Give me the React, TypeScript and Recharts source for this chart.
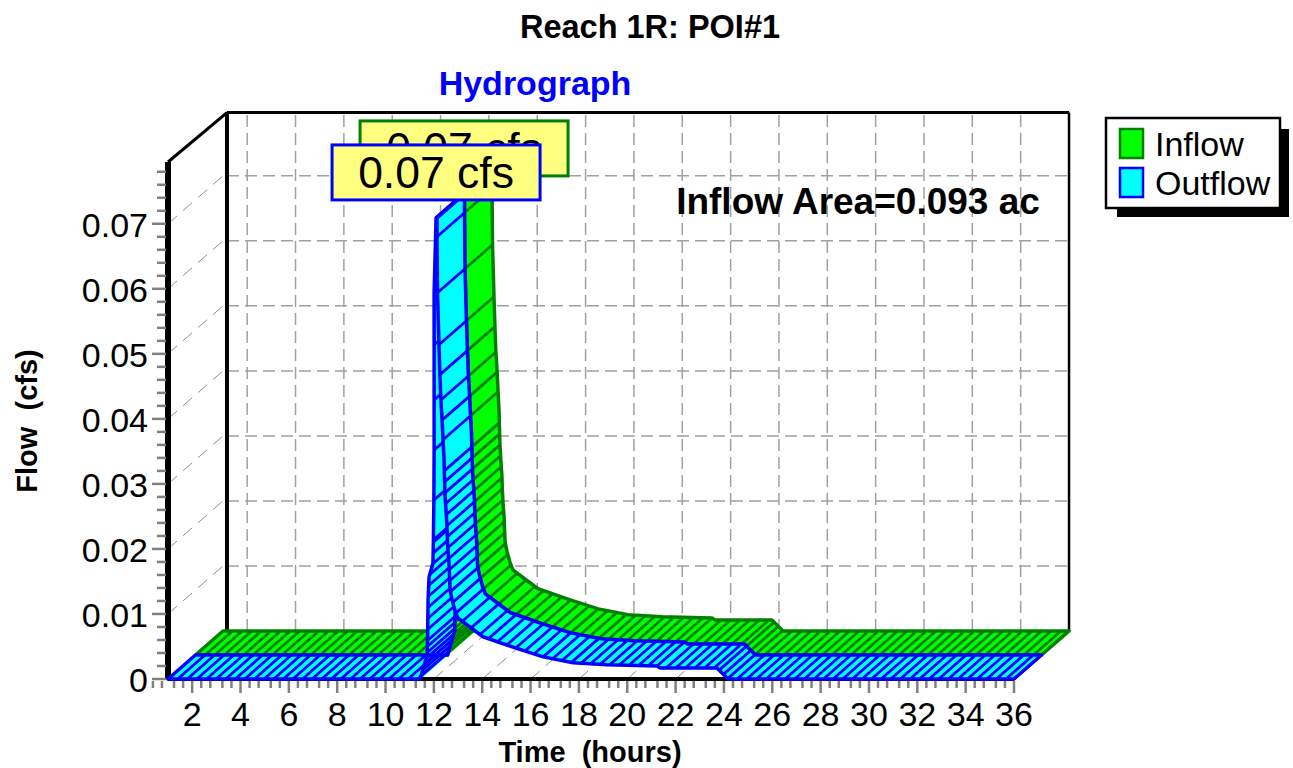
import React from "react";
import { ComposedChart, Line, XAxis, YAxis, ReferenceLine } from "recharts";

// Hours and flows
const timeHours = [1, 11.43, 11.72, 11.74, 11.76, 11.8, 11.96, 11.98, 12.0, 12.01, 12.01, 12.01, 12.01, 12.07, 12.09,
  12.13, 12.13, 12.15, 12.21, 12.25, 12.29, 12.34, 12.38, 12.42, 12.44, 12.46, 12.5, 12.54, 12.56, 12.59, 12.63, 12.65, 12.67,
  12.75, 12.87, 12.99, 13.49, 14.03, 15.27, 16.52, 17.76, 19.16, 21.23, 21.36, 22.5, 23.71, 24.17, 36];
const outflowCfs = [0, 0, 0.0037, 0.0068, 0.0122, 0.0157, 0.0178, 0.0214, 0.0275, 0.0352, 0.0429, 0.0514, 0.0594, 0.068, 0.0709,
  0.0709, 0.068, 0.0594, 0.0514, 0.0468, 0.0429, 0.0398, 0.0368, 0.0337, 0.0309, 0.0283, 0.026, 0.0237, 0.0214, 0.0194, 0.0175, 0.0155, 0.0137,
  0.0122, 0.0106, 0.0094, 0.008, 0.0065, 0.0049, 0.0034, 0.0025, 0.0022, 0.002, 0.0017, 0.0017, 0.0017, 0, 0];
const inflowCfs = [0, 0, 0.0037, 0.0068, 0.0122, 0.0157, 0.0178, 0.0214, 0.0275, 0.0352, 0.0429, 0.0514, 0.0594, 0.068, 0.0709,
  0.0709, 0.068, 0.0594, 0.0514, 0.0468, 0.0429, 0.0398, 0.0368, 0.0337, 0.0309, 0.0283, 0.026, 0.0237, 0.0214, 0.0194, 0.0175, 0.0155, 0.0137,
  0.0122, 0.0106, 0.0094, 0.008, 0.0065, 0.0049, 0.0034, 0.0025, 0.0022, 0.002, 0.0017, 0.0017, 0.0017, 0, 0];

const yMajor = [0.01, 0.02, 0.03, 0.04, 0.05, 0.06, 0.07];
const xMajor = [2, 4, 6, 8, 10, 12, 14, 16, 18, 20, 22, 24, 26, 28, 30, 32, 34, 36];
const yTicks = [0, 0.002, 0.004, 0.006, 0.008, 0.01, 0.012, 0.014, 0.016, 0.018, 0.02, 0.022, 0.024, 0.026, 0.028, 0.03,
  0.032, 0.034, 0.036, 0.038, 0.04, 0.042, 0.044, 0.046, 0.048, 0.05, 0.052, 0.054, 0.056, 0.058, 0.06, 0.062, 0.064,
  0.066, 0.068, 0.07, 0.072, 0.074, 0.076, 0.078];
const xMinorOffsets = [-1.625, -1.25, -0.75, -0.375, 0];
const xTicks = xMajor.flatMap((h) => xMinorOffsets.map((o) => h + o));
const PEAK_INDEX = 14;
const PEAK_LABEL = "0.07 cfs";

const table = timeHours.map((t, i) => ({ t, inflow: inflowCfs[i], outflow: outflowCfs[i] }));

const FONT = "'Liberation Sans', Arial, sans-serif";
const X_DOMAIN: [number, number] = [1, 36];
const Y_DOMAIN: [number, number] = [0, 0.0795];
const DEPTH_T = 2.276; // depth of the box, in hours
const DEPTH_Q = 0.00738; // depth of the box, in cfs
const BACK_LEFT = 3.44;
const BACK_RIGHT = 36 + DEPTH_T;
const BACK_TOP = 0.0871;

const RIBBON_DX = 27.5;
const RIBBON_DY = -24;
const HATCH_STEP = 9.6;
const HATCH_CURVE_STEP = 11;
const HATCH_END_STEP = 6;

function RibbonPart({ pts, falling, layer, fill, stroke }: any) {
  const ox0 = RIBBON_DX * layer;
  const oy0 = RIBBON_DY * layer;
  const ox1 = ox0 + RIBBON_DX;
  const oy1 = oy0 + RIBBON_DY;
  const front = pts.map((p: number[]) => `${p[0] + ox0},${p[1] + oy0}`);
  const back = pts.map((p: number[]) => `${p[0] + ox1},${p[1] + oy1}`);
  const hatch: number[][] = [];
  let carry = 0;
  pts.forEach((p: number[], i: number) => {
    const n = pts[i + 1];
    const curve = !!n && (p[1] > 560 || (falling && p[1] > 440));
    const flat = !!n && Math.abs(n[0] - p[0]) > Math.abs(n[1] - p[1]) * 2;
    if (!curve && !flat) {
      hatch.push(p);
      carry = 0;
    }
    if (!n || (!curve && !flat)) return;
    const dx = n[0] - p[0];
    const dy = n[1] - p[1];
    const len = Math.hypot(dx, dy);
    const step = flat ? HATCH_STEP : p[1] > 640 ? HATCH_END_STEP : HATCH_CURVE_STEP;
    let d = Math.max(step - carry, 0);
    while (d < len) {
      hatch.push([p[0] + (dx * d) / len, p[1] + (dy * d) / len]);
      d += step;
    }
    carry = len - (d - step);
  });
  return (
    <g>
      {pts.slice(1).map((p: number[], i: number) => (
        <polygon key={`q${i}`} points={`${front[i]} ${front[i + 1]} ${back[i + 1]} ${back[i]}`} fill={fill} stroke={fill} strokeWidth={0.6} />
      ))}
      {hatch.map((p, i) => (
        <line key={i} x1={p[0] + ox0} y1={p[1] + oy0} x2={p[0] + ox1} y2={p[1] + oy1} stroke={stroke} strokeWidth={2.8} />
      ))}
      <polygon points={[...front, ...[...back].reverse()].join(" ")} fill="none" stroke={stroke} strokeWidth={3.5} strokeLinejoin="round" />
    </g>
  );
}

const ribbonDot = (layer: number, fill: string, stroke: string) => (props: any) => {
  if (props.index !== 0) return <g key={props.index} />;
  const pts: number[][] = props.points.map((p: any) => [p.x, p.y]);
  return (
    <g key="ribbon">
      <RibbonPart pts={pts.slice(0, PEAK_INDEX + 1)} falling={false} layer={layer} fill={fill} stroke={stroke} />
      <RibbonPart pts={pts.slice(PEAK_INDEX + 1)} falling layer={layer} fill={fill} stroke={stroke} />
    </g>
  );
};

const peakDot = (offX: number, offY: number, stroke: string, note?: boolean) => (props: any) =>
  props.index === PEAK_INDEX ? (
    <g key="peak">
      <rect x={props.cx + offX} y={props.cy + offY} width={208} height={55} fill="#FFFF80" stroke={stroke} strokeWidth={3} />
      <text x={props.cx + offX + 104} y={props.cy + offY + 43} textAnchor="middle" fontFamily={FONT} fontSize={44.5} fill="#000">
        {PEAK_LABEL}
      </text>
      {note && (
        <text x={858} y={214} textAnchor="middle" fontFamily={FONT} fontWeight="bold" fontSize={37} fill="#000">
          Inflow Area=0.093 ac
        </text>
      )}
    </g>
  ) : (
    <g key={props.index} />
  );

function YTick({ x, y, payload }: any) {
  const v = payload.value;
  const major = Math.round(v * 1000) % 10 === 0;
  return (
    <g>
      <line x1={x - (major ? 16 : 11)} x2={x - 2} y1={y} y2={y} stroke="#808080" strokeWidth={2.5} />
      {major && (
        <text x={x - 20} y={y + 13} textAnchor="end" fontFamily={FONT} fontSize={34} fill="#000">
          {v === 0 ? "0" : v.toFixed(2)}
        </text>
      )}
    </g>
  );
}

function XTick({ x, y, payload }: any) {
  const v = payload.value;
  const major = Number.isInteger(v);
  return (
    <g>
      <line x1={x} x2={x} y1={y + 2} y2={y + (major ? 14 : 9)} stroke="#808080" strokeWidth={2.5} />
      {major && (
        <text x={x} y={y + 47} textAnchor="middle" fontFamily={FONT} fontSize={34} fill="#000">
          {v}
        </text>
      )}
    </g>
  );
}

const dashed = { stroke: "#a0a0a0", strokeWidth: 1.5, strokeDasharray: "12 6" };
const thinDashed = { stroke: "#909090", strokeWidth: 1, strokeDasharray: "12 8" };
const overflow = "visible" as const;

export default function App() {
  return (
    <div style={{ position: "absolute", left: 0, top: 0, width: 1293, height: 768, background: "#fff" }}>
      <ComposedChart width={1293} height={768} data={table} margin={{ left: 108, right: 279, top: 162, bottom: 29 }}>
        <XAxis
          type="number"
          dataKey="t"
          domain={X_DOMAIN}
          ticks={xTicks}
          interval={0}
          height={60}
          tickSize={0}
          tickMargin={0}
          tickLine={false}
          axisLine={false}
          tick={<XTick />}
        />
        <YAxis
          type="number"
          domain={Y_DOMAIN}
          ticks={yTicks}
          interval={0}
          width={60}
          tickSize={0}
          tickMargin={0}
          tickLine={false}
          axisLine={false}
          tick={<YTick />}
        />

        {/* back wall grid */}
        {yMajor.map((q) => (
          <ReferenceLine
            key={`h${q}`}
            ifOverflow={overflow}
            segment={[{ x: BACK_LEFT, y: q + DEPTH_Q }, { x: BACK_RIGHT, y: q + DEPTH_Q }]}
            {...dashed}
          />
        ))}
        {xMajor.map((h) => (
          <ReferenceLine
            key={`v${h}`}
            ifOverflow={overflow}
            segment={[{ x: h + DEPTH_T, y: DEPTH_Q }, { x: h + DEPTH_T, y: BACK_TOP }]}
            {...dashed}
          />
        ))}
        {/* side wall and floor grid */}
        {yMajor.map((q) => (
          <ReferenceLine
            key={`d${q}`}
            ifOverflow={overflow}
            segment={[{ x: 1, y: q }, { x: 1 + DEPTH_T, y: q + DEPTH_Q }]}
            {...thinDashed}
          />
        ))}
        {xMajor.map((h) => (
          <ReferenceLine
            key={`f${h}`}
            ifOverflow={overflow}
            segment={[{ x: h, y: 0 }, { x: h + DEPTH_T, y: DEPTH_Q }]}
            {...thinDashed}
          />
        ))}
        {/* box frame */}
        <ReferenceLine ifOverflow={overflow} segment={[{ x: 1, y: 0.0795 }, { x: BACK_LEFT, y: BACK_TOP }]} stroke="#000" strokeWidth={3} />
        <ReferenceLine ifOverflow={overflow} segment={[{ x: BACK_LEFT, y: BACK_TOP }, { x: BACK_RIGHT, y: BACK_TOP }]} stroke="#000" strokeWidth={3} />
        <ReferenceLine ifOverflow={overflow} segment={[{ x: BACK_LEFT, y: DEPTH_Q }, { x: BACK_LEFT, y: BACK_TOP }]} stroke="#000" strokeWidth={4} />
        <ReferenceLine ifOverflow={overflow} segment={[{ x: BACK_RIGHT, y: DEPTH_Q }, { x: BACK_RIGHT, y: BACK_TOP }]} stroke="#000" strokeWidth={2.5} />
        <ReferenceLine ifOverflow={overflow} segment={[{ x: 1, y: 0 }, { x: 1, y: 0.0795 }]} stroke="#000" strokeWidth={6} />
        <ReferenceLine ifOverflow={overflow} segment={[{ x: 1, y: 0 }, { x: 36, y: 0 }]} stroke="#000" strokeWidth={4} />

        <Line
          dataKey="inflow"
          name="Inflow"
          type="linear"
          stroke="none"
          isAnimationActive={false}
          dot={ribbonDot(1, "#00FF00", "#008000")}
          activeDot={false}
        />
        <Line
          dataKey="outflow"
          name="Outflow"
          type="linear"
          stroke="none"
          isAnimationActive={false}
          dot={ribbonDot(0, "#00FFFF", "#0000FF")}
          activeDot={false}
        />
        <Line
          dataKey="inflow"
          name="Inflow peak"
          type="linear"
          stroke="none"
          isAnimationActive={false}
          dot={peakDot(-76, -97, "#008000")}
          activeDot={false}
        />
        <Line
          dataKey="outflow"
          name="Outflow peak"
          type="linear"
          stroke="none"
          isAnimationActive={false}
          dot={peakDot(-104, -73, "#0000FF", true)}
          activeDot={false}
        />

        <text x={650} y={38} textAnchor="middle" fontFamily={FONT} fontWeight="bold" fontSize={32.5} fill="#000">
          Reach 1R: POI#1
        </text>
        <text x={535} y={95} textAnchor="middle" fontFamily={FONT} fontWeight="bold" fontSize={34} fill="#0000FF">
          Hydrograph
        </text>
        <text x={590} y={762} textAnchor="middle" fontFamily={FONT} fontWeight="bold" fontSize={29} fill="#000" xmlSpace="preserve">
          Time  (hours)
        </text>
        <text
          transform="translate(37,421) rotate(-90)"
          textAnchor="middle"
          fontFamily={FONT}
          fontWeight="bold"
          fontSize={29}
          fill="#000"
          xmlSpace="preserve"
        >
          Flow  (cfs)
        </text>

        {/* legend */}
        <rect x={1117} y={129} width={172} height={88} fill="#000" />
        <rect x={1106} y={118} width={174} height={90} fill="#fff" stroke="#000" strokeWidth={2.5} />
        <rect x={1120} y={129} width={23} height={29} fill="#00FF00" stroke="#008000" strokeWidth={2.5} />
        <rect x={1120} y={168} width={23} height={29} fill="#00FFFF" stroke="#0000FF" strokeWidth={2.5} />
        <text x={1155} y={156} fontFamily={FONT} fontSize={34} fill="#000">Inflow</text>
        <text x={1155} y={195} fontFamily={FONT} fontSize={34} fill="#000">Outflow</text>
      </ComposedChart>
    </div>
  );
}
